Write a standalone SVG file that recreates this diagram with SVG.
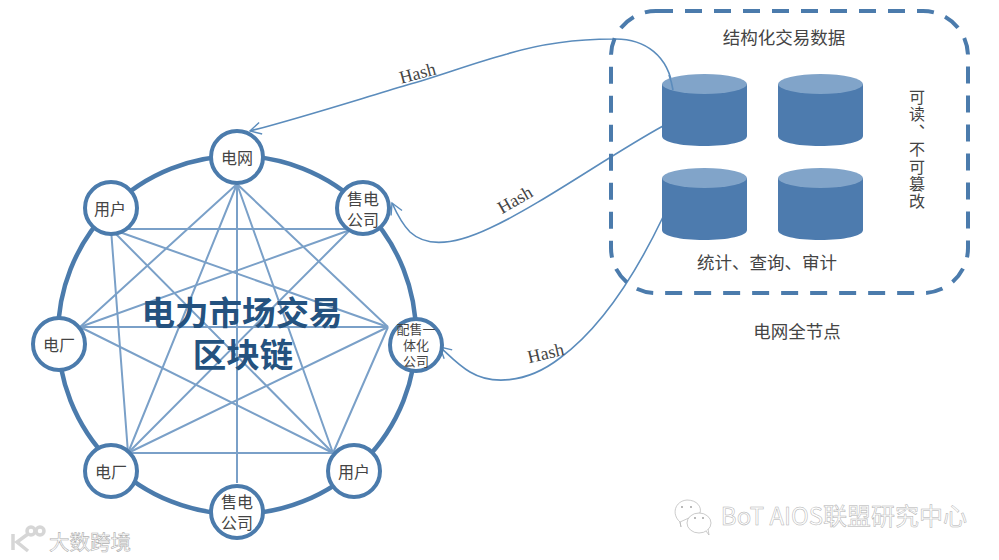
<svg xmlns="http://www.w3.org/2000/svg" width="999" height="560" viewBox="0 0 999 560">
<style>
text{font-family:"Noto Sans CJK SC","Noto Sans",sans-serif;fill:#444;text-anchor:middle}
.ring{fill:none;stroke:#4b7bac;stroke-width:4.5}
.n{fill:#fff;stroke:#4b7bac;stroke-width:4}
.m{stroke:#7aa0c8;stroke-width:2;fill:none}
.h{stroke:#5b8cbc;stroke-width:1.6;fill:none;marker-end:url(#a)}
.t{font-size:16px}
.i{font-size:13px}
.s{font-size:17.500px}
.v{font-size:16px;writing-mode:vertical-rl;letter-spacing:1.400px;text-anchor:start}
.b{font-size:33.500px;font-weight:700;fill:#24527f}
.cb{fill:#4d7bae}
.ct{fill:#81a4c9}
.hash{font-family:"Liberation Serif",serif;font-size:18px;fill:#444}
.wm{fill:#fff;stroke:#b0b0b0;stroke-width:.5}
</style>
<defs>
<marker id="a" markerUnits="userSpaceOnUse" markerWidth="18" markerHeight="18" refX="15" refY="9" orient="auto">
<path d="M4,3 L15,9 L4,15" fill="none" stroke="#5b8cbc" stroke-width="1.4"/>
</marker>
<g id="cyl"><path class="cb" d="M0,10 V62 C0,68 18,72 42,72 C66,72 85,68 85,62 V10 Z"/><ellipse class="ct" cx="42.500" cy="10" rx="42.500" ry="10"/></g>
</defs>
<rect width="999" height="560" fill="#fff"/>
<circle class="ring" cx="237" cy="335" r="179"/>
<g id="connectors">
<path class="m" d="M237,184L128,453M237,184L333,453M237,184L80,327M237,184L388,327M237,184V483"/>
<path class="m" d="M111,229H350M111,229L128,453M111,229L333,453M111,229L388,327"/>
<path class="m" d="M350,230L80,327M350,230L128,453"/>
<path class="m" d="M388,327H80M388,327L128,453M388,327L333,453"/>
<path class="m" d="M128,453H333M333,453L80,327"/>
<path class="h" d="M673,90 C669,56 645,38 613,39 C575,39 540,44 507,54 C470,64 440,76 407,85 C350,102 300,118 250,131"/>
<path class="h" d="M663,126 C610,155 540,205 490,228 C450,247 425,246 410,232 C402,224 397,214 392,203"/>
<path class="h" d="M663,217 C640,265 605,325 560,358 C525,385 490,384 470,372 C458,365 450,356 440,347"/>
</g>
<g id="node-grid"><circle class="n" cx="237" cy="157" r="26"/><text class="t" x="237" y="164">电网</text></g>
<g id="node-seller1"><circle class="n" cx="363" cy="208" r="26"/><text class="t" x="363" y="204.500">售电</text><text class="t" x="363" y="225.500">公司</text></g>
<g id="node-integrated"><circle class="n" cx="416" cy="345" r="26"/><text class="i" x="416" y="334">配售一</text><text class="i" x="416" y="350">体化</text><text class="i" x="416" y="366">公司</text></g>
<g id="node-user2"><circle class="n" cx="354" cy="471" r="26"/><text class="t" x="354" y="478">用户</text></g>
<g id="node-seller2"><circle class="n" cx="237" cy="512" r="26"/><text class="t" x="237" y="507.500">售电</text><text class="t" x="237" y="528.500">公司</text></g>
<g id="node-plant2"><circle class="n" cx="111" cy="471" r="26"/><text class="t" x="111" y="478">电厂</text></g>
<g id="node-plant1"><circle class="n" cx="59" cy="344" r="26"/><text class="t" x="59" y="351">电厂</text></g>
<g id="node-user1"><circle class="n" cx="111" cy="208" r="26"/><text class="t" x="110" y="215">用户</text></g>
<g id="title"><text class="b" x="242" y="325">电力市场交易</text><text class="b" x="243" y="367">区块链</text></g>
<g id="node-full">
<rect x="611" y="11" width="357" height="282" rx="45" fill="none" stroke="#4b7bac" stroke-width="4" stroke-dasharray="17 12"/>
<use href="#cyl" x="662" y="74"/><use href="#cyl" x="778" y="74"/><use href="#cyl" x="662" y="168"/><use href="#cyl" x="778" y="168"/>
<path d="M673,90 C672,84 671,80 669,75" fill="none" stroke="#5b8cbc" stroke-width="1.6"/>
<text class="s" x="784" y="44">结构化交易数据</text>
<text class="s" x="767" y="269">统计、查询、审计</text>
<text class="s" x="797" y="338">电网全节点</text>
<text class="v" x="917" y="89">可读、不可篡改</text>
</g>
<text class="hash" transform="translate(419,79) rotate(-15)">Hash</text>
<text class="hash" transform="translate(518,205) rotate(-30)">Hash</text>
<text class="hash" transform="translate(547,359) rotate(-13)">Hash</text>
<g id="watermark">
<text class="wm" x="844" y="525" style="font-size:24px">BoT AIOS联盟研究中心</text>
<text class="wm" x="90" y="550" style="font-size:20.500px;stroke-width:.6">大数跨境</text>
<g fill="#fff" stroke="#b5b5b5" stroke-width=".7"><path d="M680,522 C671,514 675,501 687,500 C697,500 702,507 700,513 L680,522 L681,527 Z"/><ellipse cx="699" cy="523" rx="12" ry="10"/><path d="M706,531 L709,535 L708,529"/></g>
<g fill="#999"><circle cx="682" cy="507" r=".9"/><circle cx="691" cy="507" r=".9"/><circle cx="695" cy="518" r=".9"/><circle cx="703" cy="518" r=".9"/></g>
<g fill="none" stroke="#d6d6d6" stroke-width="3.500"><path d="M13,534V550M28,534L17,542L28,551"/><circle cx="31" cy="531" r="4"/><circle cx="40" cy="531" r="4"/></g>
</g>
</svg>
